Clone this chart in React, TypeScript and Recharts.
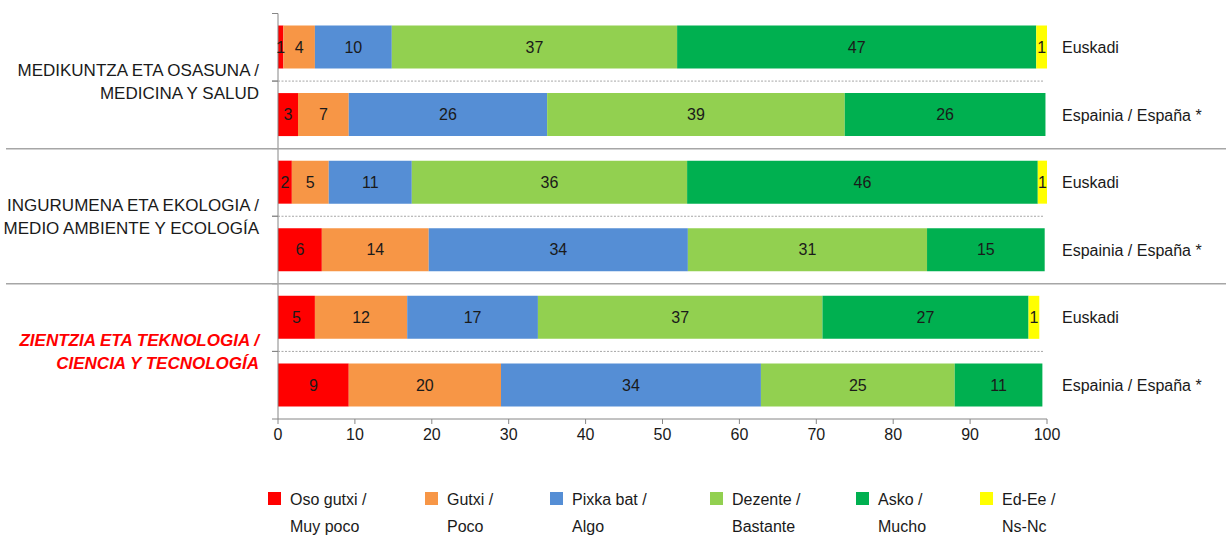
import React from 'react';
import { BarChart, Bar, XAxis, YAxis, LabelList } from 'recharts';

// Row labels (right side) and group labels (left side)
const regions = [
  'Euskadi',
  'Espainia / España *',
  'Euskadi',
  'Espainia / España *',
  'Euskadi',
  'Espainia / España *',
];
const groupLine1 = ['MEDIKUNTZA ETA OSASUNA /', 'INGURUMENA ETA EKOLOGIA /', 'ZIENTZIA ETA TEKNOLOGIA /'];
const groupLine2 = ['MEDICINA Y SALUD', 'MEDIO AMBIENTE Y ECOLOGÍA', 'CIENCIA Y TECNOLOGÍA'];

// Series values (%)
const osoGutxi = [0.7, 2.6, 1.8, 5.7, 4.8, 9.2];
const gutxi = [4.1, 6.6, 4.8, 13.9, 12.0, 19.8];
const pixka = [10.0, 25.8, 10.8, 33.7, 17.0, 33.8];
const dezente = [37.1, 38.7, 35.8, 31.1, 37.0, 25.2];
const asko = [46.7, 26.1, 45.6, 15.3, 26.8, 11.4];
const nsnc = [1.4, 0, 1.2, 0, 1.4, 0];

const xTicks = [0, 10, 20, 30, 40, 50, 60, 70, 80, 90, 100];

const seriesKeys = ['osoGutxi', 'gutxi', 'pixka', 'dezente', 'asko', 'nsnc'];
const seriesColors = ['#FF0000', '#F79646', '#558ED5', '#92D050', '#00B050', '#FFFF00'];
const legendLine1 = ['Oso gutxi /', 'Gutxi /', 'Pixka bat /', 'Dezente /', 'Asko /', 'Ed-Ee /'];
const legendLine2 = ['Muy poco', 'Poco', 'Algo', 'Bastante', 'Mucho', 'Ns-Nc'];
const legendLeft = [268, 425, 550, 710, 856, 980];

const data = regions.map((region, i) => ({
  id: `r${i}`,
  region,
  osoGutxi: osoGutxi[i],
  gutxi: gutxi[i],
  pixka: pixka[i],
  dezente: dezente[i],
  asko: asko[i],
  nsnc: nsnc[i],
}));

const FONT = '"Liberation Sans", Arial, sans-serif';
const TEXT = '#1a1a1a';
const GRID = '#A6A6A6';
const AXIS = '#868686';
const PLOT_LEFT = 278;
const PLOT_RIGHT = 1047;
const CHART_W = 1226;
const LEFT_AXIS_W = 20;

// Left category axis: draws boundary ticks, separators and the group labels
const GroupTick = (props: any) => {
  const { x, y, payload, index } = props;
  const half = payload?.offset ?? 33;
  const top = y - half;
  const bottom = y + half;
  const isGroupStart = index % 2 === 0;
  const g = Math.floor(index / 2);
  const highlight = g === 2;
  const textProps = {
    textAnchor: 'end' as const,
    dominantBaseline: 'central' as const,
    fontSize: 17,
    fontFamily: FONT,
    fill: highlight ? '#FF0000' : TEXT,
    fontStyle: highlight ? 'italic' : 'normal',
    fontWeight: highlight ? 'bold' : 'normal',
  };
  return (
    <g>
      <line x1={x - 6} x2={x} y1={top} y2={top} stroke={AXIS} />
      {index === regions.length - 1 && <line x1={x - 6} x2={x} y1={bottom} y2={bottom} stroke={AXIS} />}
      {isGroupStart && index > 0 && (
        <line x1={6} x2={CHART_W} y1={top} y2={top} stroke={GRID} strokeWidth={1.5} />
      )}
      {isGroupStart && (
        <>
          <line x1={x} x2={PLOT_RIGHT - 4} y1={bottom} y2={bottom} stroke={GRID} strokeDasharray="2 1.5" />
          <line x1={x - 6} x2={x} y1={bottom} y2={bottom} stroke={AXIS} />
          <text x={x - 19} y={bottom - 11} {...textProps}>
            {groupLine1[g]}
          </text>
          <text x={x - 19} y={bottom + 12.5} {...textProps}>
            {groupLine2[g]}
          </text>
        </>
      )}
    </g>
  );
};

const fmt = (v: any) => (v ? Math.round(Number(v)) : '');

export default function App() {
  return (
    <div style={{ position: 'absolute', left: 0, top: 0, width: CHART_W, height: 541, background: '#fff' }}>
      <BarChart
        width={CHART_W}
        height={541}
        data={data}
        layout="vertical"
        margin={{ top: 13.5, right: 0, bottom: 92, left: PLOT_LEFT - LEFT_AXIS_W }}
      >
        <XAxis
          type="number"
          domain={[0, 100]}
          ticks={xTicks}
          interval={0}
          height={30}
          axisLine={{ stroke: AXIS }}
          tickLine={{ stroke: AXIS }}
          tickSize={5}
          tickMargin={5}
          tick={{ fill: TEXT, fontSize: 16, fontFamily: FONT }}
        />
        <YAxis
          yAxisId="left"
          type="category"
          dataKey="id"
          orientation="left"
          width={LEFT_AXIS_W}
          interval={0}
          axisLine={{ stroke: AXIS }}
          tickLine={false}
          tickSize={0}
          tickMargin={0}
          tick={<GroupTick />}
        />
        <YAxis
          yAxisId="right"
          type="category"
          dataKey="region"
          orientation="right"
          width={CHART_W - PLOT_RIGHT}
          interval={0}
          axisLine={false}
          tickLine={false}
          tickSize={0}
          tickMargin={15}
          tick={{ fill: TEXT, fontSize: 16, fontFamily: FONT, textAnchor: 'start' }}
        />
        {seriesKeys.map((k, i) => (
          <Bar
            key={k}
            dataKey={k}
            yAxisId="left"
            stackId="a"
            fill={seriesColors[i]}
            barSize={43}
            isAnimationActive={false}
          >
            <LabelList
              dataKey={k}
              position="center"
              formatter={fmt}
              fill={TEXT}
              fontSize={16}
              fontFamily={FONT}
            />
          </Bar>
        ))}
      </BarChart>
      <div
        style={{
          position: 'absolute',
          left: 0,
          top: 486,
          width: CHART_W,
          height: 55,
          fontFamily: FONT,
          fontSize: 16,
          color: TEXT,
        }}
      >
        {seriesKeys.map((k, i) => (
          <div key={k} style={{ position: 'absolute', left: legendLeft[i], top: 0, display: 'flex' }}>
            <span
              style={{
                display: 'inline-block',
                width: 13,
                height: 13,
                marginTop: 6,
                marginRight: 9,
                backgroundColor: seriesColors[i],
              }}
            />
            <div style={{ lineHeight: '27px', whiteSpace: 'nowrap' }}>
              <div>{legendLine1[i]}</div>
              <div>{legendLine2[i]}</div>
            </div>
          </div>
        ))}
      </div>
    </div>
  );
}
